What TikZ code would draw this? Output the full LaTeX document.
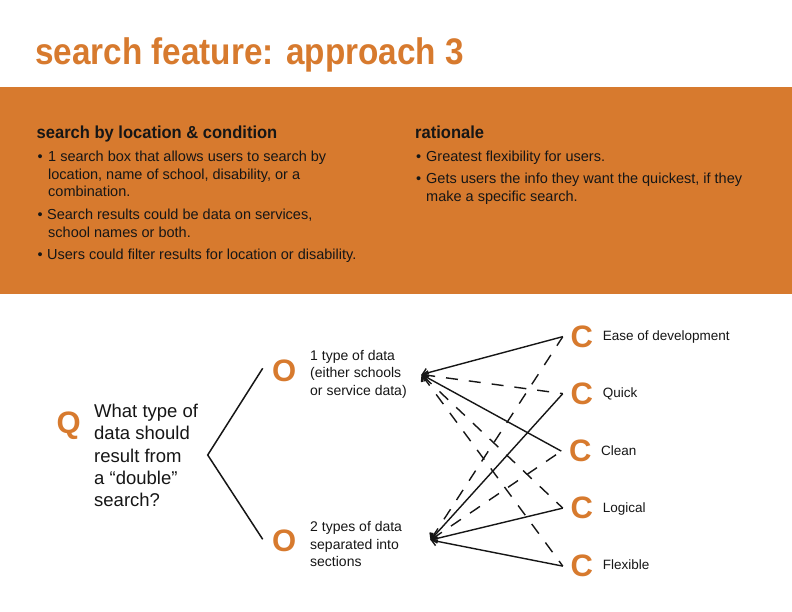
\documentclass[tikz,border=0pt]{standalone}
\usepackage{fontspec}
\setmainfont{Liberation Sans}
\newfontfamily\condbold[FakeStretch=0.95]{Liberation Sans}
\newfontfamily\titlebold[FakeStretch=0.9]{Liberation Sans}
\usetikzlibrary{arrows.meta}
\definecolor{brandorange}{RGB}{215,122,46}
\definecolor{ink}{RGB}{22,22,22}
\begin{document}
\begin{tikzpicture}[x=1pt,y=-1pt,
  line/.style={anchor=base west, inner sep=0pt, text=ink},
  boxtxt/.style={line, font=\fontsize{14.5}{17}\selectfont},
  head/.style={line, font=\condbold\bfseries\fontsize{17.4}{20}\selectfont},
  optxt/.style={line, font=\fontsize{14}{17}\selectfont},
  crit/.style={line, font=\fontsize{13.5}{16}\selectfont},
  qtxt/.style={line, font=\fontsize{18.5}{22}\selectfont},
  letter/.style={anchor=base, inner ysep=0pt, inner xsep=0pt, text=brandorange,
    font=\bfseries\fontsize{31}{31}\selectfont},
  cletter/.style={letter, inner xsep=7.5pt},
  link/.style={draw=ink, line width=1.4pt,
    {Straight Barb[length=5pt,width=9pt,line width=1.4pt]}-},
  solidlink/.style={link},
  dashlink/.style={link, dash pattern=on 12pt off 11pt},
  bracket/.style={draw=ink, line width=1.5pt}
]
\useasboundingbox (0,0) rectangle (792,612);
\fill[white] (0,0) rectangle (792,612);

% title
\node[anchor=base west, inner sep=0pt, text=brandorange,
  font=\titlebold\bfseries\fontsize{37}{40}\selectfont] (title) at (35,65)
  {search feature: approach 3};

% orange band with the two text columns
\fill[brandorange] (0,87.5) rectangle (792,294);

\node[head] (h1) at (36.5,138.3) {search by location \& condition};
\node[boxtxt] (b1) at (37.5,162) {•};
\node[boxtxt] (l1a) at (48,162) {1 search box that allows users to search by};
\node[boxtxt] (l1b) at (48,179.5) {location, name of school, disability, or a};
\node[boxtxt] (l1c) at (48,197) {combination.};
\node[boxtxt] (b2) at (37.5,219.5) {•};
\node[boxtxt] (l2a) at (47,219.5) {Search results could be data on services,};
\node[boxtxt] (l2b) at (48,237.5) {school names or both.};
\node[boxtxt] (b3) at (37.5,259.5) {•};
\node[boxtxt] (l3a) at (47,259.5) {Users could filter results for location or disability.};

\node[head] (h2) at (415,138.3) {rationale};
\node[boxtxt] (b4) at (416,161.5) {•};
\node[boxtxt] (r1a) at (426,161.5) {Greatest flexibility for users.};
\node[boxtxt] (b5) at (416,183.5) {•};
\node[boxtxt] (r2a) at (426,183.5) {Gets users the info they want the quickest, if they};
\node[boxtxt] (r2b) at (426,201.5) {make a specific search.};

% question
\node[letter] (q) at (68.8,433.3) {Q};
\node[qtxt] (qa) at (94,417.3) {What type of};
\node[qtxt] (qb) at (94,439.65) {data should};
\node[qtxt] (qc) at (94,462) {result from};
\node[qtxt] (qd) at (94,484.35) {a “double”};
\node[qtxt] (qe) at (94,506.7) {search?};

% branching bracket
\coordinate (brtop) at (262.7,368.3);
\coordinate (brmid) at (207.7,455);
\coordinate (brbot) at (262.7,539.3);
\draw[bracket] (brtop) -- (brmid) -- (brbot);

% options
\node[letter] (o1) at (284.2,381) {O};
\node[optxt] (o1a) at (310,360) {1 type of data};
\node[optxt] (o1b) at (310,377.5) {(either schools};
\node[optxt] (o1c) at (310,395.3) {or service data)};
\node[letter] (o2) at (284.2,551.7) {O};
\node[optxt] (o2a) at (310,531.7) {2 types of data};
\node[optxt] (o2b) at (310,549.3) {separated into};
\node[optxt] (o2c) at (310,566) {sections};

\coordinate (t1) at (421.5,374.5);
\coordinate (t2) at (430.5,540);

% criteria
\node[cletter] (c1) at (581.7,347.3) {C};
\node[crit] (c1t) at (602.7,340) {Ease of development};
\node[cletter] (c2) at (581.7,404.3) {C};
\node[crit] (c2t) at (602.7,397.3) {Quick};
\node[cletter] (c3) at (580.2,461.8) {C};
\node[crit] (c3t) at (601,455) {Clean};
\node[cletter] (c4) at (581.7,518.8) {C};
\node[crit] (c4t) at (602.7,512.3) {Logical};
\node[cletter] (c5) at (581.7,576.8) {C};
\node[crit] (c5t) at (602.7,569.3) {Flexible};

% connectors from the first option
\draw[solidlink] (t1) -- (c1.west);
\draw[dashlink] (t1) -- (c2.west);
\draw[solidlink] (t1) -- (c3.west);
\draw[dashlink] (t1) -- (c4.west);
\draw[dashlink] (t1) -- (c5.west);

% connectors from the second option
\draw[dashlink] (t2) -- (c1.west);
\draw[solidlink] (t2) -- (c2.west);
\draw[dashlink] (t2) -- (c3.west);
\draw[solidlink] (t2) -- (c4.west);
\draw[solidlink] (t2) -- (c5.west);
\end{tikzpicture}
\end{document}
